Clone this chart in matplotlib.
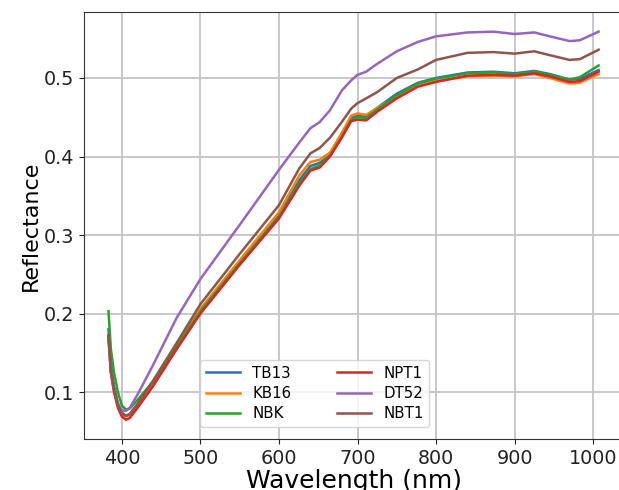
import matplotlib
matplotlib.use("Agg")
import matplotlib.pyplot as plt

wavelength = [383, 386, 390, 395, 400, 405, 410, 420, 440, 470, 500, 550, 600, 626, 640, 652, 665,
              680, 692, 700, 711, 725, 750, 777, 800, 840, 873, 900, 925, 945, 970, 983, 1007]

tb13 = [0.180, 0.135, 0.108, 0.086, 0.074, 0.070, 0.072, 0.084, 0.112, 0.158, 0.204, 0.265, 0.326,
        0.370, 0.388, 0.392, 0.402, 0.427, 0.449, 0.452, 0.451, 0.462, 0.480, 0.494, 0.500, 0.507,
        0.508, 0.506, 0.509, 0.505, 0.498, 0.499, 0.510]
kb16 = [0.170, 0.128, 0.104, 0.084, 0.073, 0.069, 0.071, 0.084, 0.113, 0.160, 0.206, 0.268, 0.329,
        0.376, 0.393, 0.396, 0.405, 0.430, 0.452, 0.455, 0.453, 0.462, 0.476, 0.490, 0.496, 0.502,
        0.503, 0.502, 0.505, 0.500, 0.493, 0.494, 0.505]
nbk = [0.203, 0.155, 0.125, 0.100, 0.083, 0.078, 0.079, 0.090, 0.114, 0.158, 0.203, 0.264, 0.323,
       0.366, 0.384, 0.389, 0.401, 0.425, 0.447, 0.450, 0.449, 0.460, 0.478, 0.493, 0.499, 0.506,
       0.507, 0.505, 0.508, 0.504, 0.498, 0.501, 0.516]
npt1 = [0.172, 0.125, 0.100, 0.080, 0.069, 0.065, 0.067, 0.080, 0.108, 0.155, 0.200, 0.262, 0.321,
        0.363, 0.382, 0.386, 0.400, 0.424, 0.445, 0.447, 0.446, 0.457, 0.474, 0.489, 0.495, 0.503,
        0.504, 0.503, 0.506, 0.502, 0.495, 0.496, 0.508]
dt52 = [0.168, 0.125, 0.103, 0.085, 0.077, 0.076, 0.080, 0.097, 0.135, 0.195, 0.244, 0.313, 0.383,
        0.418, 0.436, 0.444, 0.459, 0.484, 0.497, 0.504, 0.508, 0.518, 0.534, 0.546, 0.553, 0.558,
        0.559, 0.556, 0.558, 0.553, 0.547, 0.548, 0.559]
nbt1 = [0.172, 0.128, 0.104, 0.083, 0.073, 0.070, 0.072, 0.085, 0.115, 0.163, 0.212, 0.276, 0.338,
        0.385, 0.404, 0.411, 0.424, 0.444, 0.461, 0.468, 0.474, 0.482, 0.500, 0.511, 0.523, 0.532,
        0.533, 0.531, 0.534, 0.529, 0.523, 0.524, 0.536]

names = ["TB13", "KB16", "NBK", "NPT1", "DT52", "NBT1"]
series = [tb13, kb16, nbk, npt1, dt52, nbt1]

fig = plt.figure(figsize=(6.19, 4.9), dpi=100)
ax = fig.add_axes([0.1357, 0.104, 0.871, 0.871])

for name, vals in zip(names, series):
    ax.plot(wavelength, vals, lw=1.8, label=name)

ax.grid(True, color="#c4c4c4", lw=1.3)
ax.set_axisbelow(True)
for s in ax.spines.values():
    s.set_color("#333333")
ax.spines["right"].set_visible(False)  # picture is cropped before the right edge

ax.set_xticks([400, 500, 600, 700, 800, 900, 1000])
ax.set_yticks([0.1, 0.2, 0.3, 0.4, 0.5])
ax.tick_params(labelsize=13.8, colors="#222222")
ax.set_xlabel("Wavelength (nm)", fontsize=18, labelpad=1)
ax.set_ylabel("Reflectance", fontsize=16, labelpad=2)

ax.legend(ncol=2, loc="lower left", bbox_to_anchor=(0.215, 0.028), borderaxespad=0,
          fontsize=10.8, labelspacing=0.35, handlelength=2.3, columnspacing=3.0)

fig.savefig("out.png", dpi=100)
